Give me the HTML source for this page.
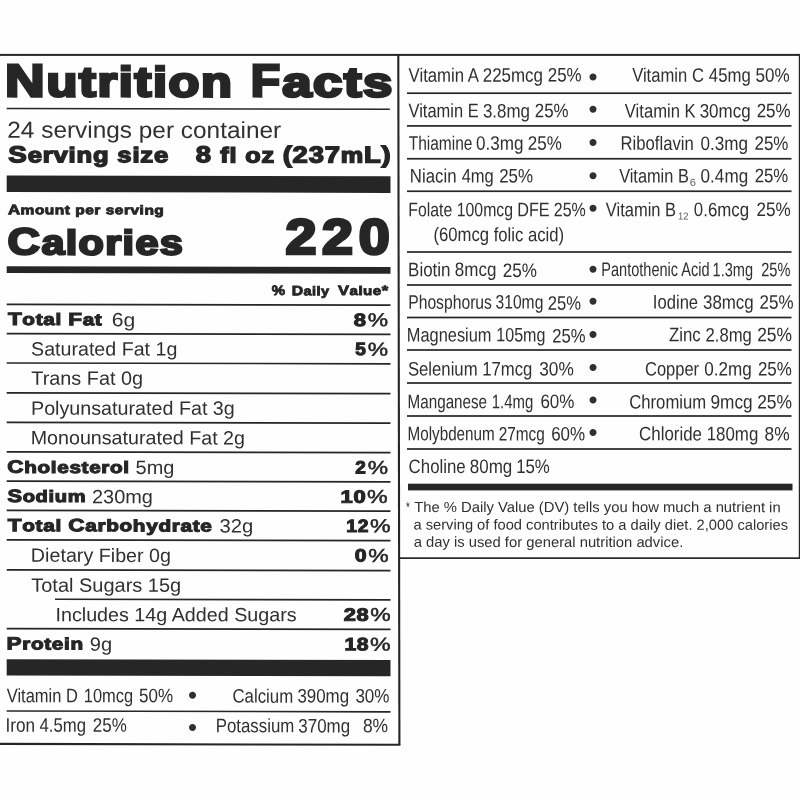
<!DOCTYPE html>
<html lang="en">
<head>
<meta charset="utf-8">
<title>Nutrition Facts</title>
<style>
html,body{margin:0;padding:0;background:#fefefe;}
body{width:800px;height:800px;position:relative;overflow:hidden;font-family:"Liberation Sans",sans-serif;color:#262626;}
.t{position:absolute;left:0;top:0;white-space:pre;line-height:1;transform-origin:0 0;font-weight:400;}
.h{font-weight:700;}
.r,.b{color:#303030;}
.g{position:absolute;left:0;top:0;}
</style>
</head>
<body>
<svg class="g" width="800" height="800" viewBox="0 0 800 800" fill="#262626">
<rect x="0.00" y="53.90" width="800.00" height="2.00"/>
<rect x="397.80" y="54.00" width="2.10" height="691.00" transform="rotate(-0.092 398.9 399.5)"/>
<rect x="0.00" y="743.30" width="400.30" height="2.10" transform="rotate(0.132 200.2 744.3)"/>
<rect x="398.50" y="557.30" width="401.50" height="1.70"/>
<rect x="798.80" y="54.00" width="1.20" height="504.50"/>
<rect x="6.70" y="108.20" width="383.10" height="1.40" transform="rotate(0.115 198.2 108.9)"/>
<rect x="6.70" y="175.90" width="383.80" height="16.60" transform="rotate(0.115 198.6 184.2)"/>
<rect x="6.70" y="266.60" width="383.80" height="6.80" transform="rotate(0.115 198.6 270.0)"/>
<rect x="6.70" y="303.85" width="383.80" height="1.70" transform="rotate(0.115 198.6 304.7)"/>
<rect x="6.70" y="333.20" width="383.80" height="1.70" transform="rotate(0.115 198.6 334.0)"/>
<rect x="6.70" y="362.55" width="383.80" height="1.70" transform="rotate(0.115 198.6 363.4)"/>
<rect x="6.70" y="392.35" width="383.80" height="1.70" transform="rotate(0.115 198.6 393.2)"/>
<rect x="6.70" y="421.95" width="383.80" height="1.70" transform="rotate(0.115 198.6 422.8)"/>
<rect x="6.70" y="451.45" width="383.80" height="1.70" transform="rotate(0.115 198.6 452.3)"/>
<rect x="6.70" y="480.70" width="383.80" height="1.70" transform="rotate(0.115 198.6 481.5)"/>
<rect x="6.70" y="509.95" width="383.80" height="1.70" transform="rotate(0.115 198.6 510.8)"/>
<rect x="6.70" y="539.45" width="383.80" height="1.70" transform="rotate(0.115 198.6 540.3)"/>
<rect x="6.70" y="569.45" width="383.80" height="1.70" transform="rotate(0.115 198.6 570.3)"/>
<rect x="55.00" y="598.75" width="335.50" height="1.70" transform="rotate(0.115 222.8 599.6)"/>
<rect x="6.70" y="628.20" width="383.80" height="1.70" transform="rotate(0.115 198.6 629.0)"/>
<rect x="6.70" y="659.70" width="383.80" height="16.20" transform="rotate(0.115 198.6 667.8)"/>
<rect x="6.70" y="710.55" width="383.80" height="1.70" transform="rotate(0.115 198.6 711.4)"/>
<rect x="407.00" y="92.35" width="384.50" height="1.70"/>
<rect x="407.00" y="125.05" width="384.50" height="1.70"/>
<rect x="407.00" y="157.90" width="384.50" height="1.70"/>
<rect x="407.00" y="190.40" width="384.50" height="1.70"/>
<rect x="407.00" y="251.15" width="384.50" height="1.70"/>
<rect x="407.00" y="284.15" width="384.50" height="1.70"/>
<rect x="407.00" y="316.65" width="384.50" height="1.70"/>
<rect x="407.00" y="349.15" width="384.50" height="1.70"/>
<rect x="407.00" y="382.15" width="384.50" height="1.70"/>
<rect x="407.00" y="415.15" width="384.50" height="1.70"/>
<rect x="407.00" y="448.15" width="384.50" height="1.70"/>
<rect x="408.00" y="483.70" width="384.50" height="6.70"/>
</svg>
<main class="label">
<section class="panel facts">
<div class="row"><span class="t h" style="font-size:45.73px;transform:matrix(1.2019,0.0006,0,1,5.06,58.31);letter-spacing:1.37px;-webkit-text-stroke:2.74px #262626">N<span class="l" style="font-size:0.92em">utrition</span></span> <span class="t h" style="font-size:45.73px;transform:matrix(1.0529,0.0006,0,1,250.63,58.29);-webkit-text-stroke:2.74px #262626">F</span><span class="t h" style="font-size:41.76px;transform:matrix(1.2603,0.0006,0,1,282.25,61.39);letter-spacing:1.25px;-webkit-text-stroke:2.74px #262626">acts</span></div>
<div class="row"><span class="t r" style="font-size:23.26px;transform:matrix(1.0489,0.0006,0,1,7.30,118.81)">24 servings per container</span></div>
<div class="row"><span class="t h" style="font-size:23.13px;transform:matrix(1.2032,0.0006,0,1,8.25,143.23);letter-spacing:0.69px;-webkit-text-stroke:1.38px #262626">S<span class="l" style="font-size:0.92em">erving size</span></span> <span class="t h" style="font-size:23.13px;transform:matrix(1.1847,0.0006,0,1,195.86,143.36);letter-spacing:0.69px;-webkit-text-stroke:1.38px #262626">8 <span class="l" style="font-size:0.92em">fl oz </span>(237<span class="l" style="font-size:0.92em">m</span>L)</span></div>
<div class="row"><span class="t h" style="font-size:13.77px;transform:matrix(1.2244,0.0006,0,1,7.94,203.31);letter-spacing:0.41px;-webkit-text-stroke:0.82px #262626">A<span class="l" style="font-size:0.92em">mount per serving</span></span></div>
<div class="row"><span class="t h" style="font-size:37.44px;transform:matrix(1.2009,0.0006,0,1,7.57,223.35);letter-spacing:1.12px;-webkit-text-stroke:2.24px #262626">C<span class="l" style="font-size:0.92em">alories</span></span> <span class="t h" style="font-size:49.61px;transform:matrix(1.1200,0.0006,0,1,285.54,212.75);letter-spacing:5.07px;-webkit-text-stroke:2.97px #262626">220</span></div>
<div class="row"><span class="t h" style="font-size:13.64px;transform:matrix(1.0978,0.0006,0,1,271.85,284.07);-webkit-text-stroke:0.82px #262626">%</span> <span class="t h" style="font-size:13.64px;transform:matrix(1.1564,0.0006,0,1,291.66,284.24);letter-spacing:0.41px;-webkit-text-stroke:0.82px #262626">D<span class="l" style="font-size:0.92em">aily</span></span> <span class="t h" style="font-size:13.64px;transform:matrix(1.2078,0.0006,0,1,338.03,283.92);letter-spacing:0.41px;-webkit-text-stroke:0.82px #262626">V<span class="l" style="font-size:0.92em">alue</span>*</span></div>
<div class="row"><span class="t h" style="font-size:17.92px;transform:matrix(1.2555,0.0006,0,1,7.92,311.10);letter-spacing:0.54px;-webkit-text-stroke:1.07px #262626">T<span class="l" style="font-size:0.92em">otal </span>F<span class="l" style="font-size:0.92em">at</span></span> <span class="t r" style="font-size:19.19px;transform:matrix(1.1018,0.0006,0,1,111.80,310.37)">6g</span> <span class="t h" style="font-size:17.92px;transform:matrix(1.2274,0.0006,0,1,353.65,311.89);-webkit-text-stroke:1.07px #262626">8</span><span class="t p" style="font-size:18.75px;transform:matrix(1.2194,0.0006,0,1,367.65,311.20);-webkit-text-stroke:0.50px #262626">%</span></div>
<div class="row"><span class="t r" style="font-size:19.19px;transform:matrix(1.0236,0.0006,0,1,31.03,339.52)">Saturated Fat 1g</span> <span class="t h" style="font-size:17.92px;transform:matrix(1.0656,0.0006,0,1,355.33,341.10);-webkit-text-stroke:1.07px #262626">5</span><span class="t p" style="font-size:18.75px;transform:matrix(1.2185,0.0006,0,1,367.66,340.70);-webkit-text-stroke:0.50px #262626">%</span></div>
<div class="row"><span class="t r" style="font-size:19.19px;transform:matrix(1.0341,0.0006,0,1,31.26,368.77)">Trans Fat 0g</span></div>
<div class="row"><span class="t r" style="font-size:19.19px;transform:matrix(1.0271,0.0006,0,1,31.01,398.73)">Polyunsaturated Fat 3g</span></div>
<div class="row"><span class="t r" style="font-size:19.19px;transform:matrix(1.0251,0.0006,0,1,30.68,428.29)">Monounsaturated Fat 2g</span></div>
<div class="row"><span class="t h" style="font-size:17.92px;transform:matrix(1.2547,0.0006,0,1,7.31,458.87);letter-spacing:0.54px;-webkit-text-stroke:1.07px #262626">C<span class="l" style="font-size:0.92em">holesterol</span></span> <span class="t r" style="font-size:19.19px;transform:matrix(1.0392,0.0006,0,1,135.61,457.94)">5mg</span> <span class="t h" style="font-size:17.92px;transform:matrix(1.0578,0.0006,0,1,355.32,459.52);-webkit-text-stroke:1.07px #262626">2</span><span class="t p" style="font-size:18.75px;transform:matrix(1.2201,0.0006,0,1,367.66,458.98);-webkit-text-stroke:0.50px #262626">%</span></div>
<div class="row"><span class="t h" style="font-size:17.92px;transform:matrix(1.2200,0.0006,0,1,7.43,488.06);letter-spacing:0.54px;-webkit-text-stroke:1.07px #262626">S<span class="l" style="font-size:0.92em">odium</span></span> <span class="t r" style="font-size:19.19px;transform:matrix(1.0383,0.0006,0,1,91.98,487.18)">230mg</span> <span class="t h" style="font-size:17.92px;transform:matrix(1.2254,0.0006,0,1,340.52,488.63);letter-spacing:0.54px;-webkit-text-stroke:1.07px #262626">10</span><span class="t p" style="font-size:18.75px;transform:matrix(1.2388,0.0006,0,1,367.07,488.10);-webkit-text-stroke:0.50px #262626">%</span></div>
<div class="row"><span class="t h" style="font-size:17.92px;transform:matrix(1.2580,0.0006,0,1,7.83,517.32);letter-spacing:0.54px;-webkit-text-stroke:1.07px #262626">T<span class="l" style="font-size:0.92em">otal </span>C<span class="l" style="font-size:0.92em">arbohydrate</span></span> <span class="t r" style="font-size:19.19px;transform:matrix(1.0548,0.0006,0,1,219.52,516.53)">32g</span> <span class="t h" style="font-size:17.92px;transform:matrix(1.0762,0.0006,0,1,346.36,517.99);letter-spacing:0.54px;-webkit-text-stroke:1.07px #262626">12</span><span class="t p" style="font-size:18.75px;transform:matrix(1.2349,0.0006,0,1,370.06,517.16);-webkit-text-stroke:0.50px #262626">%</span></div>
<div class="row"><span class="t r" style="font-size:19.19px;transform:matrix(1.0272,0.0006,0,1,30.83,545.84)">Dietary Fiber 0g</span> <span class="t h" style="font-size:17.92px;transform:matrix(1.1862,0.0006,0,1,354.70,547.48);-webkit-text-stroke:1.07px #262626">0</span><span class="t p" style="font-size:18.75px;transform:matrix(1.2223,0.0006,0,1,368.31,546.98);-webkit-text-stroke:0.50px #262626">%</span></div>
<div class="row"><span class="t r" style="font-size:19.19px;transform:matrix(1.0416,0.0006,0,1,31.22,575.75)">Total Sugars 15g</span></div>
<div class="row"><span class="t r" style="font-size:19.19px;transform:matrix(1.0275,0.0006,0,1,55.45,605.16)">Includes 14g Added Sugars</span> <span class="t h" style="font-size:17.92px;transform:matrix(1.2190,0.0006,0,1,343.63,606.63);letter-spacing:0.54px;-webkit-text-stroke:1.07px #262626">28</span><span class="t p" style="font-size:18.75px;transform:matrix(1.2254,0.0006,0,1,370.31,606.12);-webkit-text-stroke:0.50px #262626">%</span></div>
<div class="row"><span class="t h" style="font-size:17.92px;transform:matrix(1.2545,0.0006,0,1,6.62,635.50);letter-spacing:0.54px;-webkit-text-stroke:1.07px #262626">P<span class="l" style="font-size:0.92em">rotein</span></span> <span class="t r" style="font-size:19.19px;transform:matrix(1.0448,0.0006,0,1,89.87,634.67)">9g</span> <span class="t h" style="font-size:17.92px;transform:matrix(1.1810,0.0006,0,1,344.38,636.20);letter-spacing:0.54px;-webkit-text-stroke:1.07px #262626">18</span><span class="t p" style="font-size:18.75px;transform:matrix(1.2349,0.0006,0,1,370.10,635.69);-webkit-text-stroke:0.50px #262626">%</span></div>
<div class="row"><span class="t r" style="font-size:19.48px;transform:matrix(0.8454,0.0006,0,1,6.78,686.15)">Vitamin D</span> <span class="t r" style="font-size:19.48px;transform:matrix(0.8446,0.0006,0,1,83.78,686.26)">10mcg</span> <span class="t r" style="font-size:19.48px;transform:matrix(0.8739,0.0006,0,1,139.08,686.26)">50%</span> <span class="t b" style="font-size:25.83px;transform:matrix(1.0000,0.0006,0,1,187.90,682.68)">•</span> <span class="t r" style="font-size:19.48px;transform:matrix(0.8645,0.0006,0,1,232.40,686.61)">Calcium</span> <span class="t r" style="font-size:19.48px;transform:matrix(0.8693,0.0006,0,1,297.38,686.55)">390mg</span> <span class="t r" style="font-size:19.48px;transform:matrix(0.8755,0.0006,0,1,355.39,686.43)">30%</span></div>
<div class="row"><span class="t r" style="font-size:19.48px;transform:matrix(0.8825,0.0006,0,1,5.46,715.84)">Iron</span> <span class="t r" style="font-size:19.48px;transform:matrix(0.8598,0.0006,0,1,39.56,715.79)">4.5mg</span> <span class="t r" style="font-size:19.48px;transform:matrix(0.8723,0.0006,0,1,92.86,715.78)">25%</span> <span class="t b" style="font-size:25.83px;transform:matrix(1.0000,0.0006,0,1,187.88,714.93)">•</span> <span class="t r" style="font-size:19.48px;transform:matrix(0.8650,0.0006,0,1,215.73,716.23)">Potassium</span> <span class="t r" style="font-size:19.48px;transform:matrix(0.8705,0.0006,0,1,298.30,716.38)">370mg</span> <span class="t r" style="font-size:19.48px;transform:matrix(0.8955,0.0006,0,1,362.89,716.20)">8%</span></div>
</section>
<section class="panel vitamins">
<div class="row"><span class="t r" style="font-size:19.48px;transform:matrix(0.8599,0.0006,0,1,408.56,65.67)">Vitamin A</span> <span class="t r" style="font-size:19.48px;transform:matrix(0.8698,0.0006,0,1,482.73,65.75)">225mcg</span> <span class="t r" style="font-size:19.48px;transform:matrix(0.8689,0.0006,0,1,547.74,65.52)">25%</span> <span class="t b" style="font-size:25.83px;transform:matrix(1.0000,0.0006,0,1,588.42,64.41)">•</span> <span class="t r" style="font-size:19.48px;transform:matrix(0.8541,0.0006,0,1,632.13,65.62)">Vitamin C</span> <span class="t r" style="font-size:19.48px;transform:matrix(0.8591,0.0006,0,1,708.85,65.79)">45mg</span> <span class="t r" style="font-size:19.48px;transform:matrix(0.8766,0.0006,0,1,755.41,65.78)">50%</span></div>
<div class="row"><span class="t r" style="font-size:19.48px;transform:matrix(0.8459,0.0006,0,1,408.51,101.32)">Vitamin E</span> <span class="t r" style="font-size:19.48px;transform:matrix(0.8697,0.0006,0,1,482.93,101.44)">3.8mg</span> <span class="t r" style="font-size:19.48px;transform:matrix(0.8672,0.0006,0,1,534.80,101.27)">25%</span> <span class="t b" style="font-size:25.83px;transform:matrix(1.0000,0.0006,0,1,588.42,96.66)">•</span> <span class="t r" style="font-size:19.48px;transform:matrix(0.8538,0.0006,0,1,624.81,101.41)">Vitamin K</span> <span class="t r" style="font-size:19.48px;transform:matrix(0.8707,0.0006,0,1,699.68,101.44)">30mcg</span> <span class="t r" style="font-size:19.48px;transform:matrix(0.8701,0.0006,0,1,756.70,101.35)">25%</span></div>
<div class="row"><span class="t r" style="font-size:19.48px;transform:matrix(0.7959,0.0006,0,1,408.67,133.72)">Thiamine</span> <span class="t r" style="font-size:19.48px;transform:matrix(0.8783,0.0006,0,1,476.03,133.78)">0.3mg</span> <span class="t r" style="font-size:19.48px;transform:matrix(0.8723,0.0006,0,1,527.86,133.78)">25%</span> <span class="t b" style="font-size:25.83px;transform:matrix(1.0000,0.0006,0,1,588.42,129.90)">•</span> <span class="t r" style="font-size:19.48px;transform:matrix(0.8563,0.0006,0,1,620.57,133.85)">Riboflavin</span> <span class="t r" style="font-size:19.48px;transform:matrix(0.8788,0.0006,0,1,700.57,133.94)">0.3mg</span> <span class="t r" style="font-size:19.48px;transform:matrix(0.8725,0.0006,0,1,754.46,133.87)">25%</span></div>
<div class="row"><span class="t r" style="font-size:19.48px;transform:matrix(0.8622,0.0006,0,1,409.86,166.50)">Niacin</span> <span class="t r" style="font-size:19.48px;transform:matrix(0.8478,0.0006,0,1,461.64,166.59)">4mg</span> <span class="t r" style="font-size:19.48px;transform:matrix(0.8702,0.0006,0,1,499.17,166.52)">25%</span> <span class="t b" style="font-size:25.83px;transform:matrix(1.0000,0.0006,0,1,588.43,163.15)">•</span> <span class="t r" style="font-size:19.48px;transform:matrix(0.8397,0.0006,0,1,619.13,166.46)">Vitamin B</span><span class="t s" style="font-size:10.17px;transform:matrix(1.0980,0.0006,0,1,689.79,177.66);color:#5a5a5a">6</span> <span class="t r" style="font-size:19.48px;transform:matrix(0.8790,0.0006,0,1,700.59,166.38)">0.4mg</span> <span class="t r" style="font-size:19.48px;transform:matrix(0.8626,0.0006,0,1,754.63,166.34)">25%</span></div>
<div class="row"><span class="t r" style="font-size:19.48px;transform:matrix(0.8121,0.0006,0,1,408.28,200.15)">Folate</span> <span class="t r" style="font-size:19.48px;transform:matrix(0.8123,0.0006,0,1,456.75,200.15)">100mcg</span> <span class="t r" style="font-size:19.48px;transform:matrix(0.8316,0.0006,0,1,517.23,200.20)">DFE</span> <span class="t r" style="font-size:19.48px;transform:matrix(0.8204,0.0006,0,1,553.76,200.27)">25%</span> <span class="t b" style="font-size:25.83px;transform:matrix(1.0000,0.0006,0,1,588.42,195.66)">•</span> <span class="t r" style="font-size:19.48px;transform:matrix(0.8459,0.0006,0,1,605.83,200.17)">Vitamin B</span><span class="t s" style="font-size:10.17px;transform:matrix(0.9242,0.0006,0,1,678.05,211.49);color:#5a5a5a">12</span> <span class="t r" style="font-size:19.48px;transform:matrix(0.8645,0.0006,0,1,693.87,200.12)">0.6mcg</span> <span class="t r" style="font-size:19.48px;transform:matrix(0.8782,0.0006,0,1,756.57,200.10)">25%</span></div>
<div class="row"><span class="t r" style="font-size:19.48px;transform:matrix(0.8567,0.0006,0,1,433.39,225.09)">(60mcg folic acid)</span></div>
<div class="row"><span class="t r" style="font-size:19.48px;transform:matrix(0.8715,0.0006,0,1,408.08,260.21)">Biotin</span> <span class="t r" style="font-size:19.48px;transform:matrix(0.8729,0.0006,0,1,454.81,260.07)">8mcg</span> <span class="t r" style="font-size:19.48px;transform:matrix(0.8781,0.0006,0,1,502.83,261.03)">25%</span> <span class="t b" style="font-size:25.83px;transform:matrix(1.0000,0.0006,0,1,588.42,256.66)">•</span> <span class="t r" style="font-size:19.48px;transform:matrix(0.7469,0.0006,0,1,601.32,260.02)">Pantothenic Acid</span> <span class="t r" style="font-size:19.48px;transform:matrix(0.7478,0.0006,0,1,712.55,260.19)">1.3mg</span> <span class="t r" style="font-size:19.48px;transform:matrix(0.7489,0.0006,0,1,761.25,260.24)">25%</span></div>
<div class="row"><span class="t r" style="font-size:19.48px;transform:matrix(0.8057,0.0006,0,1,408.21,292.69)">Phosphorus</span> <span class="t r" style="font-size:19.48px;transform:matrix(0.8032,0.0006,0,1,495.51,292.60)">310mg</span> <span class="t r" style="font-size:19.48px;transform:matrix(0.8527,0.0006,0,1,547.75,293.75)">25%</span> <span class="t b" style="font-size:25.83px;transform:matrix(1.0000,0.0006,0,1,588.42,288.66)">•</span> <span class="t r" style="font-size:19.48px;transform:matrix(0.8529,0.0006,0,1,652.86,292.62)">Iodine</span> <span class="t r" style="font-size:19.48px;transform:matrix(0.8680,0.0006,0,1,702.99,292.70)">38mcg</span> <span class="t r" style="font-size:19.48px;transform:matrix(0.8714,0.0006,0,1,759.61,292.75)">25%</span></div>
<div class="row"><span class="t r" style="font-size:19.48px;transform:matrix(0.8414,0.0006,0,1,406.84,325.45)">Magnesium</span> <span class="t r" style="font-size:19.48px;transform:matrix(0.8249,0.0006,0,1,496.32,325.37)">105mg</span> <span class="t r" style="font-size:19.48px;transform:matrix(0.8545,0.0006,0,1,552.21,326.54)">25%</span> <span class="t b" style="font-size:25.83px;transform:matrix(1.0000,0.0006,0,1,588.42,321.90)">•</span> <span class="t r" style="font-size:19.48px;transform:matrix(0.8617,0.0006,0,1,668.94,325.34)">Zinc</span> <span class="t r" style="font-size:19.48px;transform:matrix(0.8559,0.0006,0,1,705.49,325.53)">2.8mg</span> <span class="t r" style="font-size:19.48px;transform:matrix(0.8945,0.0006,0,1,757.17,325.35)">25%</span></div>
<div class="row"><span class="t r" style="font-size:19.48px;transform:matrix(0.8577,0.0006,0,1,407.94,359.43)">Selenium</span> <span class="t r" style="font-size:19.48px;transform:matrix(0.8573,0.0006,0,1,482.28,359.53)">17mcg</span> <span class="t r" style="font-size:19.48px;transform:matrix(0.8869,0.0006,0,1,539.22,359.47)">30%</span> <span class="t b" style="font-size:25.83px;transform:matrix(1.0000,0.0006,0,1,588.42,354.91)">•</span> <span class="t r" style="font-size:19.48px;transform:matrix(0.8475,0.0006,0,1,644.99,359.52)">Copper</span> <span class="t r" style="font-size:19.48px;transform:matrix(0.8784,0.0006,0,1,704.29,359.43)">0.2mg</span> <span class="t r" style="font-size:19.48px;transform:matrix(0.8700,0.0006,0,1,757.91,359.53)">25%</span></div>
<div class="row"><span class="t r" style="font-size:19.48px;transform:matrix(0.7808,0.0006,0,1,407.60,392.27)">Manganese</span> <span class="t r" style="font-size:19.48px;transform:matrix(0.7677,0.0006,0,1,491.80,392.21)">1.4mg</span> <span class="t r" style="font-size:19.48px;transform:matrix(0.8732,0.0006,0,1,540.40,392.09)">60%</span> <span class="t b" style="font-size:25.83px;transform:matrix(1.0000,0.0006,0,1,588.42,387.41)">•</span> <span class="t r" style="font-size:19.48px;transform:matrix(0.8573,0.0006,0,1,629.20,392.40)">Chromium</span> <span class="t r" style="font-size:19.48px;transform:matrix(0.8855,0.0006,0,1,710.48,392.50)">9mcg</span> <span class="t r" style="font-size:19.48px;transform:matrix(0.8951,0.0006,0,1,757.14,392.49)">25%</span></div>
<div class="row"><span class="t r" style="font-size:19.48px;transform:matrix(0.7820,0.0006,0,1,407.52,424.31)">Molybdenum</span> <span class="t r" style="font-size:19.48px;transform:matrix(0.7890,0.0006,0,1,498.68,424.38)">27mcg</span> <span class="t r" style="font-size:19.48px;transform:matrix(0.8733,0.0006,0,1,551.14,424.47)">60%</span> <span class="t b" style="font-size:25.83px;transform:matrix(1.0000,0.0006,0,1,588.42,419.91)">•</span> <span class="t r" style="font-size:19.48px;transform:matrix(0.8660,0.0006,0,1,639.11,424.35)">Chloride</span> <span class="t r" style="font-size:19.48px;transform:matrix(0.8658,0.0006,0,1,706.72,424.37)">180mg</span> <span class="t r" style="font-size:19.48px;transform:matrix(0.8930,0.0006,0,1,764.60,424.43)">8%</span></div>
<div class="row"><span class="t r" style="font-size:19.48px;transform:matrix(0.8641,0.0006,0,1,408.62,456.91)">Choline</span> <span class="t r" style="font-size:19.48px;transform:matrix(0.8727,0.0006,0,1,469.77,456.95)">80mg</span> <span class="t r" style="font-size:19.48px;transform:matrix(0.8641,0.0006,0,1,516.15,456.95)">15%</span></div>
<div class="row"><span class="t r" style="font-size:14.54px;transform:matrix(0.6737,0.0006,0,1,406.06,499.92)">*</span> <span class="t r" style="font-size:14.54px;transform:matrix(1.0182,0.0006,0,1,414.13,499.93)">The % Daily Value (DV) tells you how much a nutrient in</span></div>
<div class="row"><span class="t r" style="font-size:14.54px;transform:matrix(1.0100,0.0006,0,1,413.49,517.55)">a serving of food contributes to a daily diet. 2,000 calories</span></div>
<div class="row"><span class="t r" style="font-size:14.54px;transform:matrix(1.0176,0.0006,0,1,413.63,534.84)">a day is used for general nutrition advice.</span></div>
</section>
</main>
</body>
</html>
